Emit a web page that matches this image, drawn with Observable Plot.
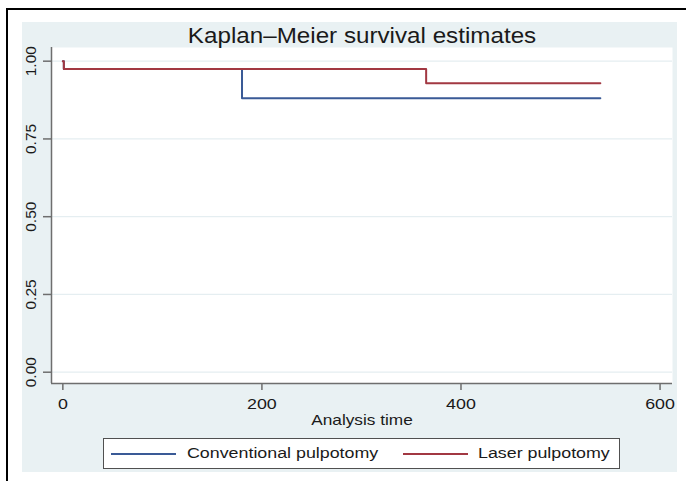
<!DOCTYPE html>
<html><head><meta charset="utf-8">
<script src="https://cdn.jsdelivr.net/npm/d3@7"></script>
<script src="https://cdn.jsdelivr.net/npm/@observablehq/plot@0.6"></script>
<style>
html,body{margin:0;padding:0;background:#fff;}
#wrap{position:relative;width:686px;height:481px;overflow:hidden;font-family:"Liberation Sans",Arial,sans-serif;color:#1a1a1a;}
#outer{position:absolute;left:6px;top:8px;width:720px;height:520px;border-top:2px solid #000;border-left:2px solid #000;}
#clip{position:absolute;left:0;top:0;width:677px;height:481px;overflow:hidden;}
#bg{position:absolute;left:22px;top:22px;width:655px;height:450px;background:#e9f1f3;}
#chart{position:absolute;left:0;top:0;width:686px;height:481px;}
#chart svg{max-width:none !important;}
#legend{position:absolute;left:103px;top:438px;width:515px;height:29px;border:1px solid #505050;background:#fff;}
.sw{position:absolute;top:14px;width:65px;height:0;border-top:2px solid;}
.lt{position:absolute;top:4px;font-size:15.5px;line-height:20px;white-space:nowrap;transform:scaleX(1.15);transform-origin:left center;}
</style></head>
<body>
<div id="wrap">
  <div id="outer"></div>
  <div id="clip">
    <div id="bg"></div>
    <div id="chart"></div>
    <div id="legend"></div>
  </div>
</div>
<script>
const title = "Kaplan–Meier survival estimates";
const xLabel = "Analysis time";
const groups = ["Conventional pulpotomy", "Laser pulpotomy"];
const colors = ["#3a5a96", "#a23842"];
const xTicks = [0, 200, 400, 600];
const yTicks = [0, 0.25, 0.5, 0.75, 1];
const conventionalTime = [0, 1, 180, 540];
const conventionalSurv = [1, 0.975, 0.881, 0.881];
const laserTime = [0, 1, 365, 540];
const laserSurv = [1, 0.975, 0.929, 0.929];
const xDomain = [-11.4, 612.5];
const yDomain = [-0.0363, 1.044];

const rows = [
  ...conventionalTime.map((t, i) => ({group: groups[0], time: t, surv: conventionalSurv[i]})),
  ...laserTime.map((t, i) => ({group: groups[1], time: t, surv: laserSurv[i]}))
];

const axisColor = "#6e6e6e";
const textColor = "#1a1a1a";
const chart = Plot.plot({
  width: 686, height: 481,
  marginLeft: 51, marginRight: 14, marginTop: 47, marginBottom: 98,
  style: {background: "transparent", fontFamily: "'Liberation Sans', Arial, sans-serif", color: textColor, overflow: "visible"},
  x: {domain: xDomain},
  y: {domain: yDomain},
  color: {domain: groups, range: colors},
  marks: [
    Plot.frame({fill: "white", stroke: null}),
    Plot.gridY(yTicks, {stroke: "#e5eef1", strokeOpacity: 1, strokeWidth: 1.3}),
    Plot.ruleX([xDomain[0]], {stroke: axisColor, strokeWidth: 1.5}),
    Plot.ruleY([yDomain[0]], {stroke: axisColor, strokeWidth: 1.5}),
    Plot.axisY({ticks: yTicks, tickSize: 8, tickFormat: () => "", label: null, stroke: axisColor, strokeWidth: 1.5}),
    Plot.text(yTicks, {y: d => d, text: d => d3.format(".2f")(d), frameAnchor: "left", dx: -20, rotate: -90, textAnchor: "middle", lineAnchor: "middle", fontSize: 15.5, fill: textColor}),
    Plot.axisX({ticks: xTicks, tickSize: 7, tickPadding: 7, fontSize: 15.5, label: null, stroke: axisColor, strokeWidth: 1.5, fill: textColor}),
    Plot.text([xLabel], {frameAnchor: "bottom", dy: 37, lineAnchor: "middle", fontSize: 15, fill: textColor}),
    Plot.text([title], {frameAnchor: "top", dy: -5, lineAnchor: "bottom", fontSize: 22, fill: textColor}),
    Plot.line(rows, {x: "time", y: "surv", z: "group", stroke: "group", curve: "step-after", strokeWidth: 2})
  ]
});
document.getElementById("chart").appendChild(chart);
// Reference rendering is horizontally stretched
chart.querySelectorAll("text").forEach(t => {
  const tr = t.getAttribute("transform") || "";
  if (tr.includes("rotate")) return;
  const len = t.getComputedTextLength();
  const k = t.textContent === title ? 1.1 : 1.15;
  if (len > 0) {
    t.setAttribute("textLength", (len * k).toFixed(2));
    t.setAttribute("lengthAdjust", "spacingAndGlyphs");
  }
});

const legend = document.getElementById("legend");
const legendPos = [{sw: 7, tx: 83}, {sw: 299, tx: 374}];
groups.forEach((g, i) => {
  const sw = document.createElement("div");
  sw.className = "sw";
  sw.style.left = legendPos[i].sw + "px";
  sw.style.borderColor = colors[i];
  legend.appendChild(sw);
  const tx = document.createElement("div");
  tx.className = "lt";
  tx.style.left = legendPos[i].tx + "px";
  tx.textContent = g;
  legend.appendChild(tx);
});
</script>
</body></html>
